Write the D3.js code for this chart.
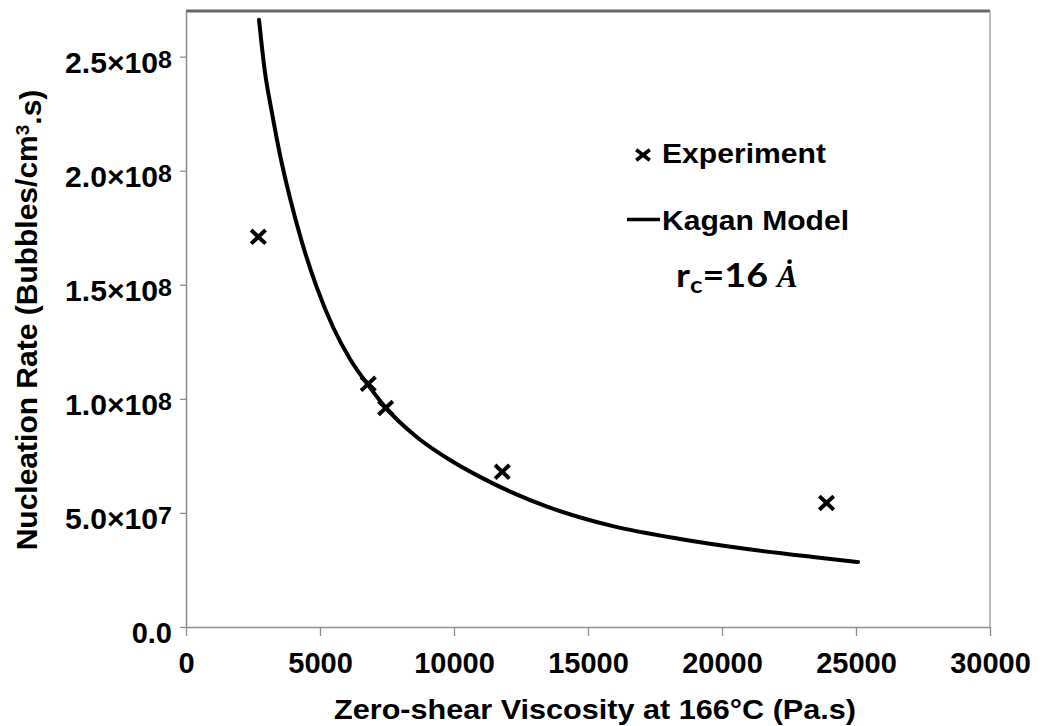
<!DOCTYPE html>
<html>
<head>
<meta charset="utf-8">
<script src="https://cdn.jsdelivr.net/npm/d3@7"></script>
<style>
  html, body { margin: 0; padding: 0; background: #ffffff; }
  svg { display: block; }
</style>
</head>
<body>
<svg id="chart" width="1040" height="726"></svg>
<script>
// Experimental nucleation rates vs. zero-shear viscosity
const viscosity = [2700, 6800, 7450, 11800, 23900];
const nucleationRate = [1.71e8, 1.066e8, 9.6e7, 6.8e7, 5.44e7];

// Kagan model prediction (r_c = 16 Å)
const modelViscosity = [2724, 2948, 3198, 3507, 3880, 4317, 4877, 5485, 6119, 6791, 7425,
  8608, 9851, 10970, 12201, 13470, 15932, 18433, 20933, 23396, 25075];
const modelRate = [2.662e8, 2.43e8, 2.26e8, 2.07e8, 1.88e8, 1.69e8, 1.49e8, 1.315e8, 1.175e8,
  1.061e8, 9.65e7, 8.33e7, 7.32e7, 6.58e7, 5.88e7, 5.28e7, 4.42e7, 3.86e7, 3.42e7, 3.07e7, 2.85e7];

// Axis ticks
const xTicks = [0, 5000, 10000, 15000, 20000, 25000, 30000];
const yTicks = [0, 5e7, 1e8, 1.5e8, 2e8, 2.5e8];
const yTickMantissa = ["0.0", "5.0", "1.0", "1.5", "2.0", "2.5"];
const yTickExponent = ["", "7", "8", "8", "8", "8"];

const legendLabels = ["Experiment", "Kagan Model"];

const svg = d3.select("#chart");
const plot = { left: 186, right: 990, top: 11, bottom: 627 };

const x = d3.scaleLinear().domain([0, 30000]).range([plot.left, plot.right]);
const y = d3.scaleLinear().domain([0, 2.7e8]).range([plot.bottom, plot.top]);

const axisColor = "#8e8e8e";
const fontSans = "'Liberation Sans', Arial, sans-serif";

// Frame: top and right borders
svg.append("line")
  .attr("x1", plot.left).attr("x2", plot.right)
  .attr("y1", plot.top).attr("y2", plot.top)
  .attr("stroke", "#666666").attr("stroke-width", 2.8);
svg.append("line")
  .attr("x1", plot.right).attr("x2", plot.right)
  .attr("y1", plot.top).attr("y2", plot.bottom)
  .attr("stroke", "#9a9a9a").attr("stroke-width", 1.3);

// X axis
const gx = svg.append("g")
  .attr("transform", `translate(0,${plot.bottom})`)
  .call(d3.axisBottom(x).tickValues(xTicks).tickFormat(d3.format("d"))
    .tickSize(9).tickSizeOuter(0).tickPadding(16));
gx.select(".domain").attr("stroke", axisColor).attr("stroke-width", 1.5);
gx.selectAll(".tick line").attr("stroke", axisColor).attr("stroke-width", 1.3);
gx.selectAll(".tick text")
  .attr("fill", "#000")
  .style("font-family", fontSans)
  .style("font-weight", "bold")
  .style("font-size", "29px");

// Y axis
const gy = svg.append("g")
  .attr("transform", `translate(${plot.left},0)`)
  .call(d3.axisLeft(y).tickValues(yTicks).tickSize(6).tickSizeOuter(0).tickPadding(8));
gy.select(".domain").attr("stroke", axisColor).attr("stroke-width", 1.5);
gy.selectAll(".tick line").attr("stroke", axisColor).attr("stroke-width", 1.3);
gy.selectAll(".tick text").each(function (d, i) {
  const t = d3.select(this);
  t.text(null)
    .attr("fill", "#000")
    .attr("dy", "0.55em")
    .style("font-family", fontSans)
    .style("font-weight", "bold")
    .style("font-size", "29px");
  if (yTickExponent[i]) {
    t.attr("textLength", 107).attr("lengthAdjust", "spacingAndGlyphs");
    t.append("tspan").text(yTickMantissa[i] + "×10");
    t.append("tspan").text(yTickExponent[i])
      .attr("dy", "-0.22em")
      .style("font-size", "24px");
  } else {
    t.append("tspan").text(yTickMantissa[i]);
  }
});

// Axis titles
svg.append("text")
  .attr("x", 334).attr("y", 719)
  .attr("textLength", 522).attr("lengthAdjust", "spacingAndGlyphs")
  .style("font-family", fontSans).style("font-weight", "bold").style("font-size", "28px")
  .text("Zero-shear Viscosity at 166°C (Pa.s)");

const yTitle = svg.append("text")
  .attr("transform", "translate(37,320) rotate(-90)")
  .attr("text-anchor", "middle")
  .style("font-family", fontSans).style("font-weight", "bold").style("font-size", "30px");
yTitle.append("tspan").text("Nucleation Rate (Bubbles/cm");
yTitle.append("tspan").text("3").attr("dy", "-0.4em").style("font-size", "19px");
yTitle.append("tspan").text(".s)").attr("dy", "0.4em");

// Model curve
const modelPoints = modelViscosity.map((v, i) => [v, modelRate[i]]);
svg.append("path")
  .datum(modelPoints)
  .attr("fill", "none")
  .attr("stroke", "#000")
  .attr("stroke-width", 4)
  .attr("stroke-linecap", "round")
  .attr("d", d3.line().x(d => x(d[0])).y(d => y(d[1])).curve(d3.curveMonotoneX));

// Cross markers
function cross(g, cx, cy, hx, hy, w) {
  g.append("path")
    .attr("d", `M${cx - hx},${cy - hy}L${cx + hx},${cy + hy}M${cx - hx},${cy + hy}L${cx + hx},${cy - hy}`)
    .attr("stroke", "#000")
    .attr("stroke-width", w)
    .attr("fill", "none");
}
const markers = svg.append("g");
viscosity.forEach((v, i) => cross(markers, x(v), y(nucleationRate[i]), 7.2, 6.8, 4));

// Legend
const legend = svg.append("g");
cross(legend, 643, 155, 6.8, 5.2, 3.6);
legend.append("text")
  .attr("x", 662).attr("y", 163)
  .attr("textLength", 164).attr("lengthAdjust", "spacingAndGlyphs")
  .style("font-family", fontSans).style("font-weight", "bold").style("font-size", "28px")
  .text(legendLabels[0]);
legend.append("line")
  .attr("x1", 627).attr("x2", 660).attr("y1", 219.5).attr("y2", 219.5)
  .attr("stroke", "#000").attr("stroke-width", 3.5);
legend.append("text")
  .attr("x", 662).attr("y", 230)
  .attr("textLength", 187).attr("lengthAdjust", "spacingAndGlyphs")
  .style("font-family", fontSans).style("font-weight", "bold").style("font-size", "28px")
  .text(legendLabels[1]);

// Critical radius annotation
const rc = legend.append("text")
  .attr("x", 676).attr("y", 287)
  .attr("textLength", 92).attr("lengthAdjust", "spacingAndGlyphs")
  .style("font-family", "Lato, 'Open Sans', sans-serif")
  .style("font-weight", "bold").style("font-size", "32px");
rc.append("tspan").text("r");
rc.append("tspan").text("c").attr("dy", 6).style("font-size", "22px");
rc.append("tspan").text("=16").attr("dy", -6);
legend.append("text")
  .attr("x", 777).attr("y", 287)
  .style("font-family", "'Liberation Serif', 'DejaVu Serif', serif")
  .style("font-weight", "bold").style("font-style", "italic").style("font-size", "31px")
  .text("Ȧ");
</script>
</body>
</html>
